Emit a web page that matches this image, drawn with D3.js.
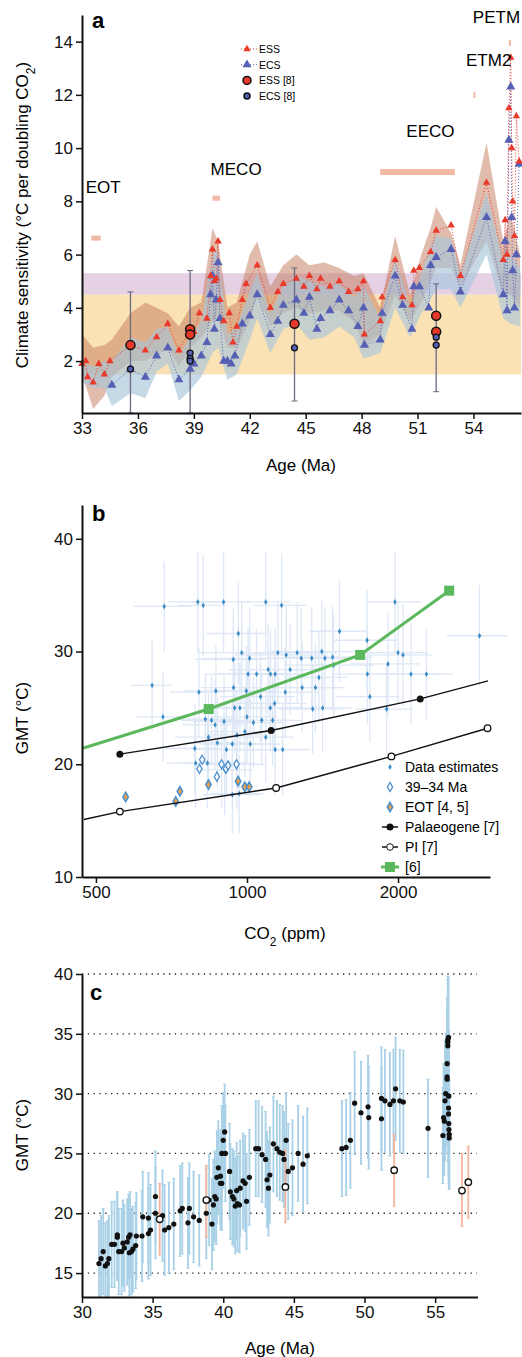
<!DOCTYPE html>
<html><head><meta charset="utf-8">
<script src="https://cdn.jsdelivr.net/npm/d3@7"></script>
<style>
body{margin:0;background:#fff;}
text{font-family:"Liberation Sans",Arial,sans-serif;}
</style></head><body>
<div id="chart"></div>
<script>
// ---------- panel a data ----------
const essPts = [[33.0,1.9],[33.2,2.0],[33.3,1.4],[33.6,1.2],[33.9,1.9],[34.2,1.5],[34.5,2.0],[35.6,2.6],[36.4,2.4],[37.0,2.9],[37.6,3.4],[38.2,2.4],[38.8,3.2],[39.0,3.1],[39.3,3.8],[39.7,3.6],[39.9,5.2],[40.0,6.2],[40.1,5.0],[40.2,5.1],[40.3,6.5],[40.4,4.3],[40.6,3.5],[40.9,3.8],[41.1,2.7],[41.3,3.3],[41.6,4.3],[41.8,4.9],[42.4,5.6],[43.1,4.0],[43.5,4.6],[43.8,4.9],[44.5,5.1],[44.9,4.8],[45.2,5.2],[45.6,4.7],[45.8,5.1],[46.3,4.8],[46.8,5.0],[47.3,4.6],[47.8,4.7],[48.1,5.0],[48.15,3.0],[49.0,3.5],[49.1,4.4],[49.8,5.8],[50.2,4.4],[50.7,4.1],[50.8,5.4],[51.1,5.5],[51.7,6.1],[52.0,6.9],[52.8,7.1],[53.3,5.2],[54.7,8.7],[55.6,5.8],[55.7,7.3],[55.8,6.0],[55.9,11.5],[56.0,13.4],[56.05,10.0],[56.1,8.0],[56.2,6.7],[56.3,11.2],[56.45,9.5]];
const ecsPts = [[34.6,1.1],[35.6,1.7],[36.4,1.4],[37.0,2.2],[37.6,2.5],[38.2,1.3],[38.8,1.7],[39.0,1.9],[39.4,2.2],[39.7,2.7],[39.9,4.5],[40.0,5.2],[40.1,3.2],[40.2,4.3],[40.3,5.7],[40.4,3.6],[40.6,2.0],[40.8,2.0],[41.0,1.9],[41.2,2.2],[41.6,3.4],[42.0,3.7],[42.4,4.5],[43.1,3.0],[43.5,3.5],[43.8,4.1],[44.5,4.3],[44.9,3.8],[45.2,4.4],[45.6,3.2],[45.8,3.6],[46.3,3.9],[46.8,4.3],[47.3,3.9],[47.8,3.3],[48.1,4.0],[48.15,2.6],[49.0,2.8],[49.1,3.8],[49.8,5.2],[50.2,4.1],[50.7,3.2],[50.8,4.8],[51.1,4.8],[51.6,4.0],[51.7,5.6],[52.0,5.9],[52.8,6.2],[53.3,4.6],[54.7,7.4],[55.6,4.5],[55.7,6.5],[55.8,3.9],[55.9,10.3],[56.0,12.3],[56.05,7.4],[56.1,5.4],[56.2,4.0],[56.3,6.0],[56.45,9.4]];
const bandAge = [33,33.6,34.2,34.6,35.6,36.4,37.0,37.6,38.2,38.8,39.4,40.0,40.3,40.8,41.3,42.0,42.4,43.1,43.8,44.5,45.2,46.0,46.8,47.6,48.1,49.0,49.8,50.6,51.2,51.7,52.0,52.8,53.3,54.7,55.6,56.0,56.5];
const essLo = [1.5,0.2,0.7,1.4,2.0,2.0,2.3,2.5,1.8,2.5,2.9,3.5,3.7,2.5,2.5,3.5,4.5,3.3,3.8,4.0,3.8,3.9,3.9,3.5,2.6,3.0,4.5,3.5,4.2,5.0,5.5,5.5,4.8,6.5,4.5,4.5,4.0];
const essHi = [3.0,2.5,2.6,2.8,3.8,4.2,4.0,3.8,3.3,4.0,4.2,7.0,6.5,4.0,4.2,6.0,6.5,4.8,5.6,6.0,5.6,5.7,5.5,5.2,5.3,4.0,6.7,4.5,6.0,7.0,7.8,6.8,5.6,10.2,6.5,7.5,6.0];
const ecsLo = [1.2,1.0,1.0,0.3,0.8,0.6,1.6,1.9,0.5,0.9,1.4,2.3,2.5,1.3,1.5,2.8,3.6,2.3,3.2,3.4,2.8,2.9,3.3,2.9,2.1,2.3,4.0,2.9,3.8,4.3,4.7,4.7,4.0,6.0,3.6,3.4,3.3];
const ecsHi = [2.0,1.8,2.0,2.0,2.9,2.7,3.2,3.3,2.2,2.9,3.5,6.0,6.2,3.0,3.3,4.6,5.3,3.8,4.8,5.2,5.0,4.8,4.9,4.4,4.8,3.6,5.9,4.0,5.3,6.3,6.7,6.6,5.3,8.3,5.8,6.0,5.5];
const refEss = [[35.6,2.6],[38.8,3.2],[38.8,3.0],[44.4,3.4],[52.0,3.7],[52.0,3.1]];
const refEcs = [[35.6,1.7],[38.8,2.3],[38.8,2.1],[38.8,2.0],[44.4,2.5],[52.0,2.9],[52.0,2.6]];
const refErr = [[35.6,0.05,4.6],[38.8,0.05,5.4],[44.4,0.5,5.5],[52.0,0.85,4.9]];
const events = [["EOT",33.5,34.0,6.6,33.2,8.3],["MECO",40.0,40.4,8.1,39.9,9.0],["EECO",49.0,53.0,9.1,50.4,10.4],["ETM2",54.0,54.05,12.0,53.6,13.1],["PETM",55.9,56.0,13.95,56.5,14.7]];
const yTicksA = [2,4,6,8,10,12,14];
const xTicksA = [33,36,39,42,45,48,51,54];

// ---------- panel b data: [co2, gmt, dCO2, dGMT] ----------
const dataB = [[684,34.0,90,4],[798,34.4,100,4.5],[818,34.1,90,4.5],[898,34.4,120,4.5],[1090,34.4,130,4.5],[1172,34.1,140,4.5],[1972,34.4,250,4.5],[2906,31.4,400,4.5],[1529,31.8,200,4.5],[961,31.6,130,4.5],[976,29.9,180,4.5],[1012,29.4,200,4.5],[939,29.3,150,4.5],[1152,29.9,200,4.5],[1197,29.7,250,4.5],[1259,29.9,250,4.5],[1283,29.4,250,4.5],[1346,29.4,250,4.5],[1410,30.0,300,4.5],[1430,29.4,300,4.5],[1481,29.5,300,4.5],[1488,28.8,300,4.5],[1735,31.0,250,4.5],[1910,28.9,300,4.5],[2000,29.9,300,4.5],[2046,29.7,300,4.5],[1738,28.0,250,4.5],[2122,28.0,300,4.5],[2278,28.0,300,4],[1757,26.0,250,4],[1898,24.9,250,4],[1391,27.7,200,4],[1369,26.8,200,4],[1352,24.9,200,4],[1415,25.0,200,4],[1288,26.8,200,4],[1192,26.4,200,4],[1064,26.0,180,4],[1135,25.4,180,4],[1113,25.0,180,4],[1045,28.0,180,4],[1005,28.0,180,4],[1102,28.4,180,4],[1114,28.0,180,4],[1138,28.0,180,4],[1219,28.4,200,4],[802,26.4,100,4],[867,26.5,120,4],[940,26.8,130,4],[997,26.5,150,4],[647,27.0,60,4],[680,24.2,80,4],[787,21.4,100,4],[790,20.1,100,4],[834,20.1,100,4],[890,20.1,120,4],[903,19.5,120,4],[955,20.0,130,4],[935,21.8,130,4],[873,21.9,120,4],[910,21.3,120,4],[838,22.4,120,4],[900,23.8,120,4],[945,25.0,130,4],[968,25.0,130,4],[1000,24.2,150,4],[1030,23.7,150,4],[1070,23.9,150,4],[1090,22.4,150,4],[1015,21.8,150,4],[1138,21.3,160,4],[1178,21.3,160,4],[1125,23.9,160,4],[955,22.6,130,4],[990,22.9,150,4],[864,23.5,120,4],[826,24.0,110,4],[850,23.9,110,4],[935,17.3,120,3.5],[965,17.4,120,3.5]];
const open3934 = [[814,20.4],[804,19.6],[871,18.9],[890,20.0],[908,19.6],[917,19.9],[953,20.0]];
const eotB = [[573,17.1],[735,17.6],[721,16.7],[838,18.2],[960,18.5],[990,18.0],[1010,18.0]];
const palaeo = [[558,20.9],[1117,23.0],[2214,25.8],[3022,27.4]];
const palaeoMark = [[558,20.9],[1117,23.0],[2214,25.8]];
const piLine = [[473,15.1],[558,15.8],[1143,17.9],[1940,20.7],[3016,23.2]];
const piMark = [[558,15.8],[1143,17.9],[1940,20.7],[3016,23.2]];
const ref6 = [[469,21.4],[839,24.9],[1681,29.7],[2529,35.4]];
const ref6Mark = [[839,24.9],[1681,29.7],[2529,35.4]];
const xTicksB = [500,1000,2000];
const yTicksB = [10,20,30,40];

// ---------- panel c data: [age, gmt, err] ----------
const dataC = [[31.2,15.8,3.6],[31.35,16.2,3.6],[31.5,16.8,3.6],[31.65,15.6,3.6],[31.8,15.8,3.6],[31.9,16.2,3.6],[32.1,17.4,3.6],[32.3,17.4,3.6],[32.5,18.0,3.6],[32.5,18.2,3.6],[32.6,16.8,3.6],[32.8,16.8,3.6],[32.9,17.5,3.6],[33.0,17.1,3.6],[33.2,17.6,3.6],[33.3,18.0,3.6],[33.4,18.2,3.6],[33.35,16.7,3.6],[33.5,16.8,3.6],[33.6,17.0,3.6],[33.8,17.3,3.6],[33.85,18.1,3.6],[34.25,18.1,3.8],[34.3,19.7,3.8],[34.7,19.6,3.8],[34.7,18.3,3.8],[34.85,18.6,3.8],[35.2,21.4,3.8],[35.2,20.0,3.8],[35.7,19.8,3.8],[35.85,18.6,3.8],[36.15,18.8,3.8],[36.5,19.1,3.8],[36.95,20.2,3.8],[37.1,20.4,3.8],[37.5,19.2,3.8],[37.6,20.4,3.8],[37.9,19.7,3.8],[38.3,19.4,3.8],[38.8,20.0,3.8],[39.0,21.1,3.8],[39.2,19.1,3.8],[39.3,20.7,3.8],[39.4,21.4,3.8],[39.5,21.2,3.8],[39.55,23.0,3.9],[39.65,23.8,3.9],[39.8,23.1,3.9],[39.8,22.5,3.9],[39.9,22.5,3.9],[40.0,26.1,4],[39.9,25.0,4],[40.1,26.8,4],[40.15,25.0,4],[40.45,23.5,4],[40.5,21.8,4],[40.65,21.4,4],[40.75,21.2,4],[40.85,20.6,4],[40.95,21.9,4],[41.0,20.8,4],[41.15,20.7,4],[41.2,22.1,4],[41.4,22.7,4],[41.55,22.5,4],[41.65,21.0,4],[41.85,23.0,4],[42.3,25.4,4],[42.5,25.4,4],[42.75,24.9,4],[43.0,24.5,4],[43.1,22.8,4],[43.2,22.1,4],[43.3,23.2,4],[43.55,25.8,4],[43.8,25.4,4],[44.0,25.1,4],[44.2,25.0,4],[44.3,24.5,4],[44.45,26.1,4],[44.6,23.5,4],[44.9,23.8,4],[45.3,25.0,4],[45.65,24.1,4],[45.95,24.8,4],[48.4,25.4,4],[48.7,25.5,4],[49.0,26.1,4],[49.3,29.2,4.3],[49.75,28.4,4.3],[50.25,28.9,4.3],[50.3,28.0,4.3],[51.2,27.9,4.3],[51.2,29.6,4.3],[51.45,29.4,4.3],[51.8,29.1,4.3],[52.05,29.4,4.3],[52.2,30.4,4.3],[52.5,29.4,4.3],[52.75,29.3,4.3],[54.5,27.1,4.1],[55.55,26.5,4],[55.6,28.0,4.5],[55.65,27.7,4.5],[55.7,29.4,5],[55.75,30.0,5],[55.85,32.5,5.5],[55.85,31.4,5.5],[55.85,31.2,5.5],[55.9,34.5,5],[55.9,34.0,5.5],[55.9,34.3,5.5],[55.95,34.7,5],[55.95,29.8,5.5],[55.95,28.8,5.5],[55.95,28.3,5.5],[55.97,27.5,5],[55.98,27.0,5],[56.0,26.3,4],[56.0,26.6,4.5],[55.97,29.8,5.5]];
const openC = [[35.5,19.5,16.5,22.5],[38.8,21.1,18.0,24.0],[44.4,22.2,19.2,25.3],[52.1,23.6,20.6,26.6],[56.9,21.9,18.9,25.0],[57.35,22.6,19.6,25.6]];
const xTicksC = [30,35,40,45,50,55];
const yTicksC = [15,20,25,30,35,40];

const svg = d3.select("#chart").append("svg").attr("width",522).attr("height",1357);
function styleAxis(g){
  g.selectAll("path,line").attr("stroke","#111").attr("stroke-width",1.5);
  g.select(".domain").attr("stroke-width",2);
  g.selectAll(".tick text").attr("font-size",17).attr("fill","#111").attr("font-family","Liberation Sans, Arial, sans-serif");
}

// ================= panel a =================
const xa = d3.scaleLinear([33,56.55],[82,521]);
const ya = d3.scaleLinear([0.05,15],[413,15]);
const ga = svg.append("g");
ga.append("rect").attr("x",82).attr("width",439).attr("y",ya(4.5)).attr("height",ya(1.5)-ya(4.5)).attr("fill","#fbe2b4");
ga.append("rect").attr("x",82).attr("width",439).attr("y",ya(5.3)).attr("height",ya(4.5)-ya(5.3)).attr("fill","#e6d1e4");
const area = (lo,hi)=>d3.area().x((d,i)=>xa(bandAge[i])).y0((d,i)=>ya(lo[i])).y1((d,i)=>ya(hi[i]));
ga.append("path").datum(bandAge).attr("d",area(essLo,essHi)).attr("fill","#c4795a").attr("opacity",0.5);
ga.append("path").datum(bandAge).attr("d",area(ecsLo,ecsHi)).attr("fill","#a7c4da").attr("opacity",0.65);
refErr.forEach(e=>{
  ga.append("line").attr("x1",xa(e[0])).attr("x2",xa(e[0])).attr("y1",ya(e[1])).attr("y2",ya(e[2])).attr("stroke","#6a6a80").attr("stroke-width",1.3);
  [e[1],e[2]].forEach(v=>ga.append("line").attr("x1",xa(e[0])-3).attr("x2",xa(e[0])+3).attr("y1",ya(v)).attr("y2",ya(v)).attr("stroke","#6a6a80"));
});
const lineA = d3.line().x(d=>xa(d[0])).y(d=>ya(d[1]));
ga.append("path").datum(ecsPts).attr("d",lineA).attr("fill","none").attr("stroke","#5560b5").attr("stroke-width",1).attr("stroke-dasharray","1,2");
ga.append("path").datum(essPts).attr("d",lineA).attr("fill","none").attr("stroke","#e8392b").attr("stroke-width",1).attr("stroke-dasharray","1,2");
const tri = d3.symbol().type(d3.symbolTriangle);
ga.selectAll(".ecs").data(ecsPts).join("path").attr("transform",d=>`translate(${xa(d[0])},${ya(d[1])})`).attr("d",tri.size(36)()).attr("fill","#5560b5");
ga.selectAll(".ess").data(essPts).join("path").attr("transform",d=>`translate(${xa(d[0])},${ya(d[1])})`).attr("d",tri.size(24)()).attr("fill","#e8392b");
ga.selectAll(".rEss").data(refEss).join("circle").attr("cx",d=>xa(d[0])).attr("cy",d=>ya(d[1])).attr("r",4.5).attr("fill","#e8392b").attr("stroke","#111").attr("stroke-width",1.5);
ga.selectAll(".rEcs").data(refEcs).join("circle").attr("cx",d=>xa(d[0])).attr("cy",d=>ya(d[1])).attr("r",3).attr("fill","#5560b5").attr("stroke","#111").attr("stroke-width",1.3);
events.forEach(e=>{
  const tall = e[0]==="ETM2"||e[0]==="PETM";
  ga.append("rect").attr("x",xa(e[1])).attr("width",Math.max(2,xa(e[2])-xa(e[1]))).attr("y",ya(e[3])-3).attr("height",tall?6:(e[0]==="EECO"?6:5)).attr("fill","#f3b8a3");
  ga.append("text").attr("x",xa(e[4])).attr("y",ya(e[5])).attr("font-size",17).attr("text-anchor",e[0]==="PETM"?"end":"start").text(e[0]);
});
// legend a
const la = ga.append("g").attr("transform","translate(247,49)");
[["ESS","#e8392b","tri"],["ECS","#5560b5","tri"],["ESS [8]","#e8392b","c"],["ECS [8]","#5560b5","c"]].forEach((d,i)=>{
  const gy=i*15.7;
  if(d[2]==="tri"){
    la.append("line").attr("x1",-6).attr("x2",10).attr("y1",gy).attr("y2",gy).attr("stroke",d[1]).attr("stroke-dasharray","1,2");
    la.append("path").attr("transform",`translate(0,${gy})`).attr("d",tri.size(i?36:24)()).attr("fill",d[1]);
  } else la.append("circle").attr("cx",0).attr("cy",gy).attr("r",i===2?4:3).attr("fill",d[1]).attr("stroke","#111").attr("stroke-width",1.5);
  la.append("text").attr("x",12).attr("y",gy+4).attr("font-size",10.5).text(d[0]);
});
ga.append("g").attr("transform","translate(82,0)").call(d3.axisLeft(ya).tickValues(yTicksA).tickSize(6).tickSizeOuter(0)).call(styleAxis);
ga.append("g").attr("transform","translate(0,413)").call(d3.axisBottom(xa).tickValues(xTicksA).tickSize(6).tickSizeOuter(0)).call(styleAxis);
ga.append("text").attr("x",92).attr("y",28).attr("font-size",22).attr("font-weight","bold").text("a");
ga.append("text").attr("x",301).attr("y",471).attr("text-anchor","middle").attr("font-size",17).text("Age (Ma)");
ga.append("text").attr("transform","translate(28,215) rotate(-90)").attr("text-anchor","middle").attr("font-size",17)
  .html('Climate sensitivity (°C per doubling CO<tspan baseline-shift="sub" font-size="12">2</tspan>)');

// ================= panel b =================
const xb = d3.scaleLog([469,3050],[82,490]);
const yb = d3.scaleLinear([10,43],[877,505]);
const gb = svg.append("g");
const ebc = "#dde7f5";
dataB.forEach(d=>{
  gb.append("line").attr("x1",xb(d[0]-d[2])).attr("x2",xb(d[0]+d[2])).attr("y1",yb(d[1])).attr("y2",yb(d[1])).attr("stroke",ebc).attr("stroke-width",1.3);
  gb.append("line").attr("x1",xb(d[0])).attr("x2",xb(d[0])).attr("y1",yb(d[1]-d[3])).attr("y2",yb(d[1]+d[3])).attr("stroke",ebc).attr("stroke-width",1.3);
});
const diamond = d3.symbol().type(d3.symbolDiamond);
gb.selectAll(".db").data(dataB).join("path").attr("transform",d=>`translate(${xb(d[0])},${yb(d[1])})`).attr("d",diamond.size(10)()).attr("fill","#3b8cc8");
gb.selectAll(".eo").data(eotB).join("path").attr("transform",d=>`translate(${xb(d[0])},${yb(d[1])})`).attr("d",diamond.size(26)()).attr("fill","#e8a04a").attr("stroke","#4a8fcf").attr("stroke-width",1.5);
gb.selectAll(".op").data(open3934).join("path").attr("transform",d=>`translate(${xb(d[0])},${yb(d[1])})`).attr("d",diamond.size(24)()).attr("fill","#fff").attr("stroke","#4a8fcf").attr("stroke-width",1.3);
const lineB = d3.line().x(d=>xb(d[0])).y(d=>yb(d[1]));
gb.append("path").datum(ref6).attr("d",lineB).attr("fill","none").attr("stroke","#5cb85c").attr("stroke-width",3);
gb.selectAll(".g6").data(ref6Mark).join("rect").attr("x",d=>xb(d[0])-5).attr("y",d=>yb(d[1])-5).attr("width",10).attr("height",10).attr("fill","#5cb85c");
gb.append("path").datum(palaeo).attr("d",lineB).attr("fill","none").attr("stroke","#111").attr("stroke-width",1.5);
gb.selectAll(".pm").data(palaeoMark).join("circle").attr("cx",d=>xb(d[0])).attr("cy",d=>yb(d[1])).attr("r",3.5).attr("fill","#111");
gb.append("path").datum(piLine).attr("d",lineB).attr("fill","none").attr("stroke","#111").attr("stroke-width",1.5);
gb.selectAll(".pi").data(piMark).join("circle").attr("cx",d=>xb(d[0])).attr("cy",d=>yb(d[1])).attr("r",3.3).attr("fill","#fff").attr("stroke","#111").attr("stroke-width",1.3);
const lb = gb.append("g").attr("transform","translate(390,767)");
["Data estimates","39–34 Ma","EOT [4, 5]","Palaeogene [7]","PI [7]","[6]"].forEach((t,i)=>{
  const gy=i*20, g=lb.append("g").attr("transform",`translate(0,${gy})`);
  if(i===0) g.append("path").attr("d",diamond.size(10)()).attr("fill","#3b8cc8");
  if(i===1) g.append("path").attr("d",diamond.size(24)()).attr("fill","#fff").attr("stroke","#4a8fcf").attr("stroke-width",1.3);
  if(i===2) g.append("path").attr("d",diamond.size(26)()).attr("fill","#e8a04a").attr("stroke","#4a8fcf").attr("stroke-width",1.5);
  if(i===3){g.append("line").attr("x1",-8).attr("x2",8).attr("stroke","#111").attr("stroke-width",1.5);g.append("circle").attr("r",3.5).attr("fill","#111");}
  if(i===4){g.append("line").attr("x1",-8).attr("x2",8).attr("stroke","#111").attr("stroke-width",1.5);g.append("circle").attr("r",3.3).attr("fill","#fff").attr("stroke","#111");}
  if(i===5){g.append("line").attr("x1",-9).attr("x2",9).attr("stroke","#5cb85c").attr("stroke-width",3);g.append("rect").attr("x",-5).attr("y",-5).attr("width",10).attr("height",10).attr("fill","#5cb85c");}
  g.append("text").attr("x",15).attr("y",5).attr("font-size",14).text(t);
});
gb.append("g").attr("transform","translate(82,0)").call(d3.axisLeft(yb).tickValues(yTicksB).tickSize(6).tickSizeOuter(0)).call(styleAxis);
gb.append("g").attr("transform","translate(0,877)").call(d3.axisBottom(xb).tickValues(xTicksB).tickFormat(d3.format("d")).tickSize(6).tickSizeOuter(0)).call(styleAxis);
gb.append("text").attr("x",92).attr("y",521).attr("font-size",22).attr("font-weight","bold").text("b");
gb.append("text").attr("x",285).attr("y",939).attr("text-anchor","middle").attr("font-size",17).html('CO<tspan baseline-shift="sub" font-size="12">2</tspan> (ppm)');
gb.append("text").attr("transform","translate(28,718) rotate(-90)").attr("text-anchor","middle").attr("font-size",17).text("GMT (°C)");

// ================= panel c =================
const xc = d3.scaleLinear([30,58],[82,477.5]);
const yc = d3.scaleLinear([13,40],[1297,974]);
const gc = svg.append("g");
yTicksC.forEach(v=>gc.append("line").attr("x1",82).attr("x2",477).attr("y1",yc(v)).attr("y2",yc(v)).attr("stroke","#222").attr("stroke-width",1.3).attr("stroke-dasharray","1.3,4.5"));
const clip = v=>Math.max(13,v);
dataC.forEach(d=>{
  const x=xc(d[0]);
  gc.append("line").attr("x1",x).attr("x2",x).attr("y1",yc(clip(d[1]-d[2]))).attr("y2",yc(d[1]+d[2])).attr("stroke","#a8d0e6").attr("stroke-width",1.8);
  [d[1]-d[2],d[1]+d[2]].filter(v=>v>13).forEach(v=>gc.append("line").attr("x1",x-1.5).attr("x2",x+1.5).attr("y1",yc(v)).attr("y2",yc(v)).attr("stroke","#a8d0e6"));
});
openC.forEach(d=>{
  const x=xc(d[0]);
  gc.append("line").attr("x1",x).attr("x2",x).attr("y1",yc(d[2])).attr("y2",yc(d[3])).attr("stroke","#f5b39c").attr("stroke-width",1.8);
  [d[2],d[3]].forEach(v=>gc.append("line").attr("x1",x-1.5).attr("x2",x+1.5).attr("y1",yc(v)).attr("y2",yc(v)).attr("stroke","#f5b39c"));
});
gc.selectAll(".pc").data(dataC).join("circle").attr("cx",d=>xc(d[0])).attr("cy",d=>yc(d[1])).attr("r",2.6).attr("fill","#111");
gc.selectAll(".oc").data(openC).join("circle").attr("cx",d=>xc(d[0])).attr("cy",d=>yc(d[1])).attr("r",3.2).attr("fill","#fff").attr("stroke","#111").attr("stroke-width",1.4);
gc.append("g").attr("transform","translate(82,0)").call(d3.axisLeft(yc).tickValues(yTicksC).tickSize(6).tickSizeOuter(0)).call(styleAxis);
gc.append("g").attr("transform","translate(0,1297)").call(d3.axisBottom(xc).tickValues(xTicksC).tickSize(6).tickSizeOuter(0)).call(styleAxis);
gc.append("text").attr("x",90).attr("y",1000).attr("font-size",22).attr("font-weight","bold").text("c");
gc.append("text").attr("x",280).attr("y",1354).attr("text-anchor","middle").attr("font-size",17).text("Age (Ma)");
gc.append("text").attr("transform","translate(28,1135) rotate(-90)").attr("text-anchor","middle").attr("font-size",17).text("GMT (°C)");
</script>
</body></html>
